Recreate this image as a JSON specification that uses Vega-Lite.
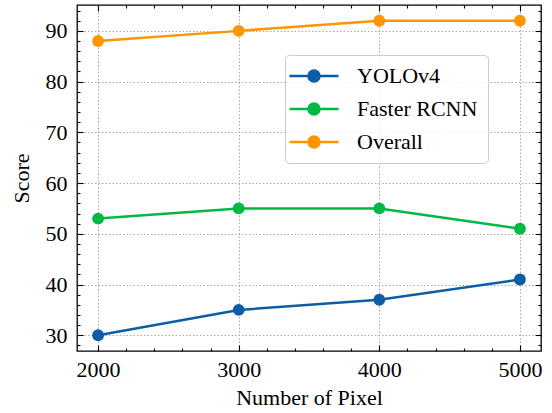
{
  "$schema": "https://vega.github.io/schema/vega-lite/v6.json",
  "width": 464,
  "height": 346,
  "autosize": {"type": "none"},
  "padding": {"left": 77, "top": 5, "right": 11, "bottom": 62},
  "background": "white",
  "data": {
    "values": [
      {"pixel": 2000, "score": 30, "model": "YOLOv4"},
      {"pixel": 3000, "score": 35, "model": "YOLOv4"},
      {"pixel": 4000, "score": 37, "model": "YOLOv4"},
      {"pixel": 5000, "score": 41, "model": "YOLOv4"},
      {"pixel": 2000, "score": 53, "model": "Faster RCNN"},
      {"pixel": 3000, "score": 55, "model": "Faster RCNN"},
      {"pixel": 4000, "score": 55, "model": "Faster RCNN"},
      {"pixel": 5000, "score": 51, "model": "Faster RCNN"},
      {"pixel": 2000, "score": 88, "model": "Overall"},
      {"pixel": 3000, "score": 90, "model": "Overall"},
      {"pixel": 4000, "score": 92, "model": "Overall"},
      {"pixel": 5000, "score": 92, "model": "Overall"}
    ]
  },
  "config": {
    "view": {"stroke": "black", "strokeWidth": 1.3},
    "font": "Liberation Serif",
    "axis": {
      "labelFont": "Liberation Serif",
      "titleFont": "Liberation Serif",
      "labelFontSize": 22,
      "titleFontSize": 22,
      "labelColor": "black",
      "titleColor": "black",
      "titleFontWeight": "normal",
      "tickColor": "black",
      "tickWidth": 1.1,
      "domain": false,
      "gridColor": "#a8a8a8",
      "gridDash": [1.5, 2],
      "gridWidth": 1
    }
  },
  "encoding": {
    "x": {
      "field": "pixel",
      "type": "quantitative",
      "scale": {"domain": [1850, 5150], "nice": false, "zero": false}
    },
    "y": {
      "field": "score",
      "type": "quantitative",
      "scale": {"domain": [26.9, 95.1], "nice": false, "zero": false}
    },
    "color": {
      "field": "model",
      "type": "nominal",
      "scale": {
        "domain": ["YOLOv4", "Faster RCNN", "Overall"],
        "range": ["#0C5DA5", "#00B945", "#FF9500"]
      },
      "legend": {
        "title": null,
        "orient": "none",
        "legendX": 208,
        "legendY": 50,
        "padding": 10,
        "cornerRadius": 4,
        "strokeColor": "#cccccc",
        "fillColor": "rgba(255,255,255,0.8)",
        "labelFont": "Liberation Serif",
        "labelFontSize": 22,
        "labelColor": "black",
        "symbolType": "M-3.77,0L3.77,0M-0.85,0A0.85,0.85 0 1,0 0.85,0A0.85,0.85 0 1,0 -0.85,0Z",
        "symbolSize": 169,
        "symbolStrokeWidth": 2.5,
        "symbolOffset": 8,
        "labelOffset": 32,
        "rowPadding": 11,
        "encode": {
          "symbols": {
            "update": {
              "fill": {"scale": "color", "field": "value"},
              "stroke": {"scale": "color", "field": "value"},
              "strokeWidth": {"value": 2.5},
              "opacity": {"value": 1}
            }
          }
        }
      }
    }
  },
  "layer": [
    {
      "mark": {"type": "line", "strokeWidth": 2.5},
      "encoding": {
        "x": {
          "field": "pixel",
          "type": "quantitative",
          "axis": {
            "orient": "bottom",
            "title": "Number of Pixel",
            "values": [2000, 3000, 4000, 5000],
            "format": "d",
            "grid": true,
            "tickSize": -6,
            "labelPadding": 14,
            "titlePadding": 7
          }
        },
        "y": {
          "field": "score",
          "type": "quantitative",
          "axis": {
            "orient": "left",
            "title": "Score",
            "values": [30, 40, 50, 60, 70, 80, 90],
            "grid": true,
            "tickSize": -6,
            "labelPadding": 16,
            "titlePadding": 12
          }
        }
      }
    },
    {
      "mark": {"type": "point", "filled": true, "size": 140, "opacity": 1},
      "encoding": {
        "x": {
          "field": "pixel",
          "type": "quantitative",
          "axis": {
            "orient": "bottom",
            "title": null,
            "labels": false,
            "grid": false,
            "tickSize": -3,
            "values": [2000, 2200, 2400, 2600, 2800, 3000, 3200, 3400, 3600, 3800, 4000, 4200, 4400, 4600, 4800, 5000]
          }
        },
        "y": {
          "field": "score",
          "type": "quantitative",
          "axis": {
            "orient": "left",
            "title": null,
            "labels": false,
            "grid": false,
            "tickSize": -3,
            "values": [28, 30, 32, 34, 36, 38, 40, 42, 44, 46, 48, 50, 52, 54, 56, 58, 60, 62, 64, 66, 68, 70, 72, 74, 76, 78, 80, 82, 84, 86, 88, 90, 92, 94]
          }
        }
      }
    },
    {
      "mark": {"type": "point", "opacity": 0},
      "encoding": {
        "x": {
          "field": "pixel",
          "type": "quantitative",
          "axis": {
            "orient": "top",
            "title": null,
            "labels": false,
            "grid": false,
            "tickSize": -6,
            "values": [2000, 3000, 4000, 5000]
          }
        },
        "y": {
          "field": "score",
          "type": "quantitative",
          "axis": {
            "orient": "right",
            "title": null,
            "labels": false,
            "grid": false,
            "tickSize": -6,
            "values": [30, 40, 50, 60, 70, 80, 90]
          }
        }
      }
    },
    {
      "mark": {"type": "point", "opacity": 0},
      "encoding": {
        "x": {
          "field": "pixel",
          "type": "quantitative",
          "axis": {
            "orient": "top",
            "title": null,
            "labels": false,
            "grid": false,
            "tickSize": -3,
            "values": [2000, 2200, 2400, 2600, 2800, 3000, 3200, 3400, 3600, 3800, 4000, 4200, 4400, 4600, 4800, 5000]
          }
        },
        "y": {
          "field": "score",
          "type": "quantitative",
          "axis": {
            "orient": "right",
            "title": null,
            "labels": false,
            "grid": false,
            "tickSize": -3,
            "values": [28, 30, 32, 34, 36, 38, 40, 42, 44, 46, 48, 50, 52, 54, 56, 58, 60, 62, 64, 66, 68, 70, 72, 74, 76, 78, 80, 82, 84, 86, 88, 90, 92, 94]
          }
        }
      }
    }
  ],
  "resolve": {"axis": {"x": "independent", "y": "independent"}}
}
